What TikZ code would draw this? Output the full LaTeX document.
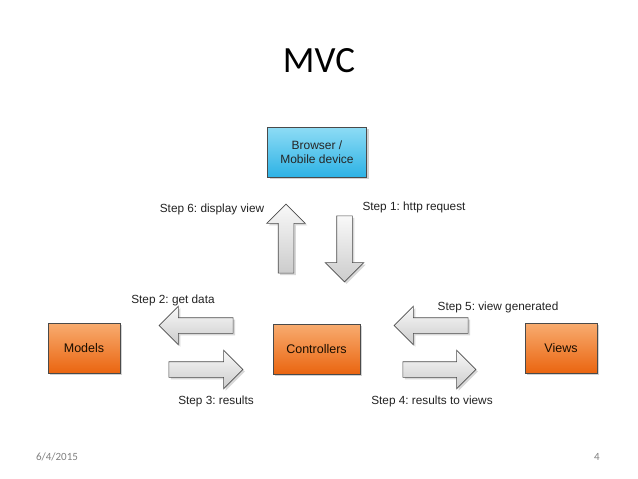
\documentclass[tikz,border=0pt]{standalone}
\usepackage{fontspec}
\setmainfont{Liberation Sans}
\newfontfamily\slidefont{Carlito}
\usepackage{tikz}
\usetikzlibrary{shapes.arrows,shadows}
\frenchspacing

\definecolor{orangetop}{HTML}{F8AC70}
\definecolor{orangebot}{HTML}{EA6510}
\definecolor{bluetop}{HTML}{8EDCF5}
\definecolor{bluebot}{HTML}{2DB2E5}
\definecolor{boxline}{HTML}{4A4A4A}
\definecolor{steptext}{HTML}{222222}

\begin{document}
\begin{tikzpicture}[x=1pt,y=-1pt,
	part/.style={shape=rectangle,draw=boxline,line width=0.8pt,
		top color=orangetop,bottom color=orangebot,
		minimum height=50pt,text=black!75!orange!40!black,
		font=\fontsize{12.5}{15}\selectfont,
		drop shadow={opacity=0.35,shadow xshift=2pt,shadow yshift=-2pt}},
	client/.style={part,top color=bluetop,bottom color=bluebot,
		text=black!85,align=center,font=\fontsize{12}{14}\selectfont},
	bigarrow/.style={single arrow,draw=gray!60!black,line width=0.6pt,
		top color=gray!5,bottom color=gray!40,
		inner sep=7.5pt,single arrow head extend=11.5pt,
		drop shadow={opacity=0.3,shadow xshift=2pt,shadow yshift=-2pt}},
	steplabel/.style={text=steptext,font=\fontsize{11.8}{14}\selectfont}]

	\useasboundingbox (0,0) rectangle (638,479);
	\fill[white] (0,0) rectangle (638,479);

	\node[font=\slidefont\fontsize{37}{44}\selectfont] (title) at (319,61) {MVC};

	\node[client,minimum width=99pt] (browser) at (317,152) {Browser /\\Mobile device};
	\node[part,minimum width=72pt] (models) at (84,348) {Models};
	\node[part,minimum width=87pt] (controllers) at (316.5,349) {Controllers};
	\node[part,minimum width=72pt] (views) at (561,348) {Views};

	\node[bigarrow,minimum height=69pt,shape border rotate=90] (up) at (286,242.5) {};
	\node[bigarrow,minimum height=66pt,shape border rotate=270] (down) at (344.5,245) {};
	\node[bigarrow,minimum height=74pt,shape border rotate=180] (getdata) at (200,325.5) {};
	\node[bigarrow,minimum height=74pt] (results) at (202,369.5) {};
	\node[bigarrow,minimum height=74pt,shape border rotate=180] (generated) at (435,325.5) {};
	\node[bigarrow,minimum height=73pt] (toviews) at (435.5,369.5) {};

	\node[steplabel] (s6) at (212,209) {Step 6: display view};
	\node[steplabel] (s1) at (414,207) {Step 1: http request};
	\node[steplabel] (s2) at (173,300) {Step 2: get data};
	\node[steplabel] (s3) at (216,401) {Step 3: results};
	\node[steplabel] (s5) at (498,307) {Step 5: view generated};
	\node[steplabel] (s4) at (432,401) {Step 4: results to views};

	\node[text=gray,font=\slidefont\fontsize{11}{13}\selectfont] (date) at (57,457) {6/4/2015};
	\node[text=gray,font=\slidefont\fontsize{11}{13}\selectfont] (page) at (597,457) {4};
\end{tikzpicture}
\end{document}
